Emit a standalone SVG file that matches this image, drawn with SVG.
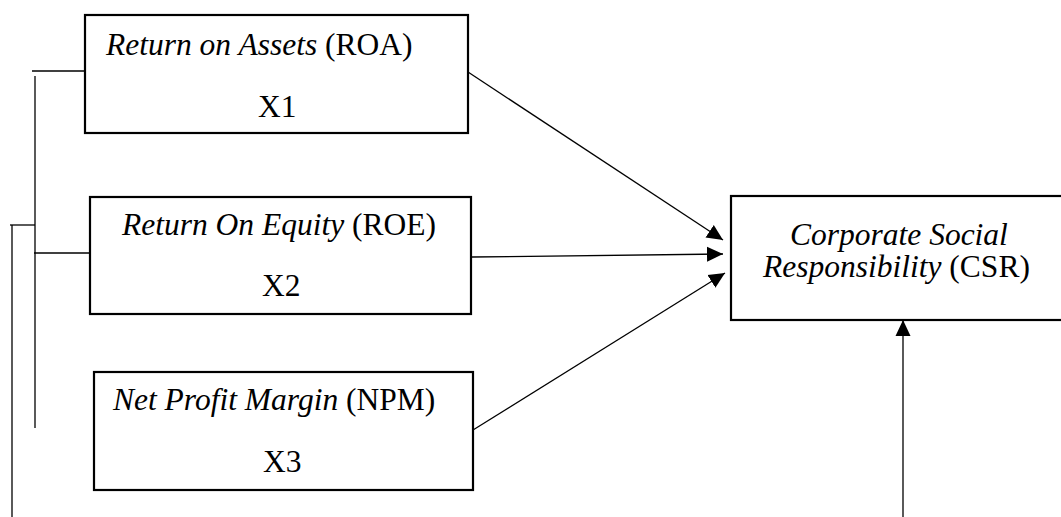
<svg xmlns="http://www.w3.org/2000/svg" width="1061" height="517" viewBox="0 0 1061 517">
  <style>
    .box { fill: #fff; stroke: #000; stroke-width: 2.2; }
    .line { fill: none; stroke: #000; stroke-width: 1.3; }
    .lbl { font-family: "Liberation Serif", "Times New Roman", serif; font-size: 31.5px; fill: #000; }
    .it { font-style: italic; }
  </style>
  <defs>
    <marker id="arrow" markerUnits="userSpaceOnUse" markerWidth="18" markerHeight="18" viewBox="0 0 18 18" refX="16" refY="9" orient="auto">
      <path d="M0,1.5 L16,9 L0,16.5 Z" fill="#000"/>
    </marker>
  </defs>
  <rect width="1061" height="517" fill="#fff"/>

  <!-- connectors -->
  <g id="connectors">
    <!-- bracket lines on the left -->
    <path class="line" d="M32,71 H85"/>
    <path class="line" d="M35,76 V428"/>
    <path class="line" d="M10,225 H35"/>
    <path class="line" d="M12,225 V517"/>
    <path class="line" d="M34,253 H90"/>
    <!-- arrows into CSR -->
    <path class="line" d="M468,72 L723,240" marker-end="url(#arrow)"/>
    <path class="line" d="M472,257 L723,254" marker-end="url(#arrow)"/>
    <path class="line" d="M473,430 L725,273" marker-end="url(#arrow)"/>
    <path class="line" d="M903,517 V320" marker-end="url(#arrow)"/>
  </g>

  <g id="roa">
    <rect class="box" x="85" y="15" width="383" height="118"/>
    <text class="lbl" x="106" y="55"><tspan class="it">Return on Assets</tspan> (ROA)</text>
    <text class="lbl" x="258" y="117">X1</text>
  </g>

  <g id="roe">
    <rect class="box" x="90" y="197" width="381" height="117"/>
    <text class="lbl" x="122" y="235"><tspan class="it">Return On Equity</tspan> (ROE)</text>
    <text class="lbl" x="262" y="296">X2</text>
  </g>

  <g id="npm">
    <rect class="box" x="94" y="372" width="379" height="118"/>
    <text class="lbl" x="113" y="410"><tspan class="it">Net Profit Margin</tspan> (NPM)</text>
    <text class="lbl" x="263" y="472">X3</text>
  </g>

  <g id="csr">
    <rect class="box" x="731" y="196" width="340" height="124"/>
    <text class="lbl" x="790" y="245"><tspan class="it">Corporate Social</tspan></text>
    <text class="lbl" x="763" y="277"><tspan class="it">Responsibility</tspan> (CSR)</text>
  </g>
</svg>
